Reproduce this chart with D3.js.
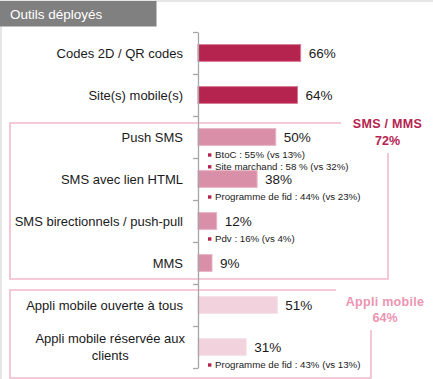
<!DOCTYPE html>
<html>
<head>
<meta charset="utf-8">
<script src="https://cdn.jsdelivr.net/npm/d3@7"></script>
<style>
  html, body { margin: 0; padding: 0; background: #fff; }
  svg { display: block; font-family: "Liberation Sans", Arial, sans-serif; }
</style>
</head>
<body>
<svg id="chart" width="433" height="379"></svg>
<script>
// ---- data ----
const title = "Outils déployés";
const categories = [
  "Codes 2D / QR codes",
  "Site(s) mobile(s)",
  "Push SMS",
  "SMS avec lien HTML",
  "SMS birectionnels / push-pull",
  "MMS",
  "Appli mobile ouverte à tous",
  "Appli mobile réservée aux clients"
];
const values = [66, 64, 50, 38, 12, 9, 51, 31];
const groups = ["general", "general", "sms", "sms", "sms", "sms", "appli", "appli"];
const noteTexts = [
  "BtoC : 55% (vs 13%)",
  "Site marchand : 58 % (vs 32%)",
  "Programme de fid : 44% (vs 23%)",
  "Pdv : 16% (vs 4%)",
  "Programme de fid : 43% (vs 13%)"
];
const noteCategories = [
  "Push SMS",
  "Push SMS",
  "SMS avec lien HTML",
  "SMS birectionnels / push-pull",
  "Appli mobile réservée aux clients"
];
const groupNames = ["SMS / MMS", "Appli mobile"];
const groupTotals = ["72%", "64%"];

// ---- setup ----
const svg = d3.select("#chart");
const x = d3.scaleLinear().domain([0, 100]).range([198, 353.5]);
const y = d3.scaleBand().domain(categories).range([32, 368]).padding(0);
const yIdx = d3.scaleLinear().domain([0, categories.length]).range([32, 368]);
const barH = y.bandwidth() * 0.4;
const fill = d3.scaleOrdinal().domain(["general", "sms", "appli"]).range(["#B5234F", "#DA8FA8", "#F2D2DD"]);
const edge = d3.scaleOrdinal().domain(["general", "sms", "appli"]).range(["#D97895", "#E8B3C4", "#F6E1E8"]);

// frame
svg.append("rect").attr("x", 0).attr("y", 0).attr("width", 433).attr("height", 2).attr("fill", "#E6E6E6");
svg.append("rect").attr("x", 0).attr("y", 0).attr("width", 2).attr("height", 379).attr("fill", "#E6E6E6");

// title box
svg.append("rect").attr("x", 0).attr("y", 1).attr("width", 156.5).attr("height", 25.5).attr("fill", "#808080");
svg.append("text").attr("x", 10).attr("y", 18.5).attr("fill", "#fff")
  .attr("font-size", "13.5px").text(title);

// group boxes
const boxColor = "#F2B9CC";
const smsTop = y("Push SMS") + 7, smsBot = y("MMS") + y.bandwidth() - 5;
const apTop = y("Appli mobile ouverte à tous") + 6, apBot = y("Appli mobile réservée aux clients") + y.bandwidth() + 10;
const boxL = 10;
svg.append("path")
  .attr("d", `M341,${smsTop} H${boxL} V${smsBot} H388 V153`)
  .attr("fill", "none").attr("stroke", boxColor).attr("stroke-width", 1.6);
svg.append("path")
  .attr("d", `M336,${apTop} H${boxL} V${apBot} H371 V330`)
  .attr("fill", "none").attr("stroke", boxColor).attr("stroke-width", 1.6);

// group labels
const glab = [
  {name: groupNames[0], total: groupTotals[0], cx: 387.5, y1: 127.5, y2: 145, color: "#B5234F"},
  {name: groupNames[1], total: groupTotals[1], cx: 385, y1: 306, y2: 321.5, color: "#EB94B2"}
];
glab.forEach(g => {
  svg.append("text").attr("x", g.cx).attr("y", g.y1).attr("text-anchor", "middle")
    .attr("font-size", "12.5px").attr("font-weight", "bold").attr("letter-spacing", "0.3px")
    .attr("fill", g.color).text(g.name);
  svg.append("text").attr("x", g.cx).attr("y", g.y2).attr("text-anchor", "middle")
    .attr("font-size", "12.5px").attr("font-weight", "bold")
    .attr("fill", g.color).text(g.total);
});

// bars
const data = categories.map((c, i) => ({c, v: values[i], g: groups[i]}));
svg.append("g").selectAll("rect").data(data).join("rect")
  .attr("x", x(0))
  .attr("y", d => y(d.c) + (y.bandwidth() - barH) / 2)
  .attr("width", d => x(d.v) - x(0))
  .attr("height", barH)
  .attr("fill", d => fill(d.g))
  .attr("stroke", d => edge(d.g))
  .attr("stroke-width", 1);

// value labels
svg.append("g").selectAll("text").data(data).join("text")
  .attr("x", d => x(d.v) + 8)
  .attr("y", d => y(d.c) + y.bandwidth() / 2 + 5)
  .attr("font-size", "13.5px").attr("fill", "#1a1a1a")
  .text(d => d.v + "%");

// axis
const axis = d3.axisLeft(yIdx).ticks(categories.length).tickSize(5).tickSizeOuter(0).tickFormat("");
const ag = svg.append("g").attr("transform", `translate(${x(0)},0)`).call(axis);
ag.selectAll("path, line").attr("stroke", "#A6A6A6").attr("stroke-width", 1.3);

// category labels (with wrapping)
const labG = svg.append("g").attr("font-size", "13px").attr("fill", "#1a1a1a");
const maxW = 178, labelRight = 183;
categories.forEach(c => {
  const t = labG.append("text").attr("text-anchor", "end").attr("x", labelRight)
    .attr("y", y(c) + y.bandwidth() / 2 + 4.5).text(c);
  const w = t.node().getComputedTextLength();
  if (w > maxW) {
    t.remove();
    const words = c.split(" ");
    const lines = [];
    let cur = [];
    const probe = labG.append("text");
    words.forEach(wd => {
      const test = cur.concat(wd).join(" ");
      probe.text(test);
      if (probe.node().getComputedTextLength() > 165 && cur.length) {
        lines.push(cur.join(" "));
        cur = [wd];
      } else cur.push(wd);
    });
    lines.push(cur.join(" "));
    let lw = 0;
    lines.forEach(l => { probe.text(l); lw = Math.max(lw, probe.node().getComputedTextLength()); });
    probe.remove();
    const lh = 16.7;
    const cx = labelRight + 2 - lw / 2;
    const y0 = y(c) + y.bandwidth() / 2 + 4.5 - (lines.length - 1) * lh / 2;
    lines.forEach((l, i) => {
      labG.append("text").attr("text-anchor", "middle").attr("x", cx)
        .attr("y", y0 + i * lh).text(l);
    });
  }
});

// notes
const noteG = svg.append("g");
const counts = {};
noteTexts.forEach((t, i) => {
  const c = noteCategories[i];
  const k = counts[c] || 0;
  counts[c] = k + 1;
  const ny = y(c) + y.bandwidth() / 2 + 18 + k * 11.8;
  const bx = x(0) + 10;
  noteG.append("rect").attr("x", bx).attr("y", ny - 1.7).attr("width", 3.4).attr("height", 3.4).attr("fill", "#B5234F");
  noteG.append("text").attr("x", bx + 7).attr("y", ny + 3.4)
    .attr("font-size", "9.7px").attr("fill", "#1a1a1a").text(t);
});
</script>
</body>
</html>
